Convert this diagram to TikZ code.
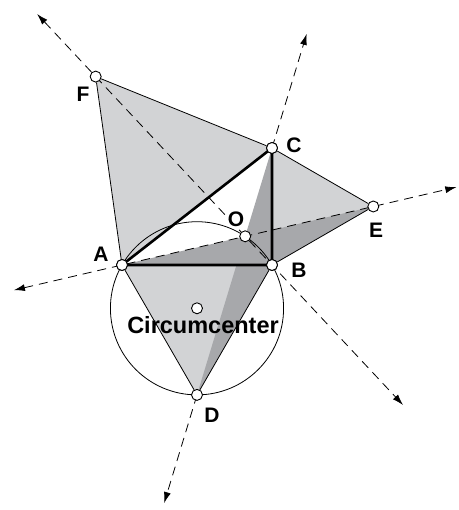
\documentclass[tikz,border=0pt]{standalone}
\usepackage{fontspec}
\setmainfont{Liberation Sans}
\usetikzlibrary{arrows.meta,calc}
\definecolor{lightg}{RGB}{210,211,213}
\definecolor{darkg}{RGB}{167,168,171}
\begin{document}
\begin{tikzpicture}[x=1pt,y=1pt,
  pt/.style={circle,draw=black,fill=white,line width=0.9pt,minimum size=11pt,inner sep=0pt},
  lbl/.style={font=\fontsize{21}{21}\selectfont\bfseries,inner sep=0pt,anchor=base},
  biglbl/.style={font=\fontsize{23.5}{24}\selectfont\bfseries,inner sep=0pt,anchor=base},
  axisline/.style={dash pattern=on 9pt off 6pt,line width=0.8pt},
  tipend/.style={-{Latex[length=11pt,width=7pt]}},
  tipboth/.style={{Latex[length=11pt,width=7pt]}-{Latex[length=11pt,width=7pt]}},
  edge/.style={line width=0.8pt},
  heavy/.style={line width=2.6pt,line join=round}]
\useasboundingbox (0,0) rectangle (458,510);
% geometry
\coordinate (A) at (122,245);
\coordinate (B) at (272,245);
\coordinate (C) at (272,362);
\coordinate (D) at ($(A)!1!-60:(B)$);
\coordinate (E) at ($(B)!1!-60:(C)$);
\coordinate (F) at ($(C)!1!-60:(A)$);
\coordinate (O) at (intersection of A--E and C--D);
\coordinate (K) at ($(A)!0.5!(B)!1/3!(D)$);
\coordinate (Ltip) at ($(A)!-0.43!(E)$);
\coordinate (Rtip) at ($(A)!1.33!(E)$);
\coordinate (ULtip) at ($(F)!-0.332!(B)$);
\coordinate (LRtip) at ($(F)!1.743!(B)$);
\coordinate (Btip) at ($(D)!-0.438!(C)$);
\coordinate (Ttip) at ($(C)!-0.462!(D)$);
% fills
\fill[lightg] (A) -- (B) -- (D) -- cycle;
\fill[lightg] (B) -- (C) -- (E) -- cycle;
\fill[lightg] (C) -- (A) -- (F) -- cycle;
\fill[darkg] (A) -- (B) -- (E) -- cycle;
\fill[darkg] (D) -- (B) -- (C) -- cycle;
% circumcircle
\draw[edge] let \p1=($(A)-(K)$) in (K) circle ({veclen(\x1,\y1)});
% dashed lines
\draw[axisline,tipboth] (Ltip) -- (Rtip);
\draw[axisline,tipboth] (ULtip) -- (LRtip);
\draw[axisline,tipend] (D) -- (Btip);
\draw[axisline,tipend] (C) -- (Ttip);
% point nodes
\node[pt] (pA) at (A) {};
\node[pt] (pB) at (B) {};
\node[pt] (pC) at (C) {};
\node[pt] (pD) at (D) {};
\node[pt] (pE) at (E) {};
\node[pt] (pF) at (F) {};
\node[pt] (pO) at (O) {};
\node[pt] (pK) at (K) {};
% thin edges
\draw[edge] (pA) -- (pF) -- (pC) -- (pE) -- (pB) -- (pD) -- (pA);
% main triangle
\draw[heavy] (A) -- (B) -- (C) -- cycle;
% redraw points on top
\node[pt] at (A) {};
\node[pt] at (B) {};
\node[pt] at (C) {};
% labels
\node[lbl] (lA) at (101,248) {A};
\node[lbl] (lB) at (299,232) {B};
\node[lbl] (lC) at (294,357) {C};
\node[lbl] (lD) at (212,87) {D};
\node[lbl] (lE) at (376,272) {E};
\node[lbl] (lF) at (83,408) {F};
\node[lbl] (lO) at (236,283) {O};
\node[biglbl] (lK) at (203,176) {Circumcenter};
\end{tikzpicture}
\end{document}
